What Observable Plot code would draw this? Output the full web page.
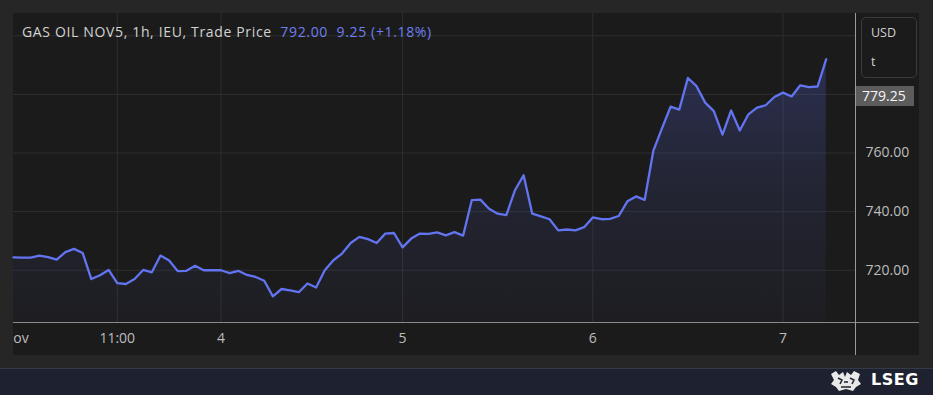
<!DOCTYPE html>
<html><head><meta charset="utf-8">
<script src="https://cdn.jsdelivr.net/npm/d3@7"></script>
<script src="https://cdn.jsdelivr.net/npm/@observablehq/plot@0.6"></script>
<style>
html,body{margin:0;padding:0;background:#262626;width:933px;height:395px;overflow:hidden;font-family:"Open Sans",sans-serif;}
#wrap{position:relative;width:933px;height:395px;}
.panel{position:absolute;left:13px;top:13px;width:906px;height:342px;background:#1b1b1b;}
.bar{position:absolute;left:0;top:368px;width:933px;height:27px;background:#1e2230;border-top:1px solid #353a47;}
#chart{position:absolute;left:0;top:0;}
.title{position:absolute;left:22px;top:22px;font-size:14px;letter-spacing:0.65px;color:#d2d2d2;white-space:pre;}
.title .px{color:#6f7ff0;}
.usd{position:absolute;left:861px;top:17px;width:56px;height:61px;border:1px solid #3b3b3b;border-radius:5px;box-sizing:border-box;color:#d2d2d2;font-size:12.5px;}
.usd div{position:absolute;left:9px;}
.hline{position:absolute;left:13px;top:322px;width:906px;height:1px;background:#8a8a8a;}
.vline{position:absolute;left:855px;top:13px;width:1px;height:342px;background:#9a9a9a;}
.leftmask{position:absolute;left:0;top:323px;width:13px;height:32px;background:#262626;}
.tag{position:absolute;left:856px;width:58px;height:20px;background:#5c5c5c;color:#f6f6f6;font-size:14px;line-height:20px;box-sizing:border-box;padding-left:6px;}
.lseg{position:absolute;left:871px;top:370px;font-family:"DejaVu Sans",sans-serif;font-weight:bold;font-size:16px;color:#fff;letter-spacing:0.5px;}
</style></head>
<body><div id="wrap">
<div class="panel"></div>
<div class="bar"></div>
<div id="chart"></div>
<div class="hline"></div>
<div class="vline"></div>
<div class="leftmask"></div>
<div class="title">GAS OIL NOV5, 1h, IEU, Trade Price  <span class="px">792.00  9.25 (+1.18%)</span></div>
<div class="usd"><div style="top:6px">USD</div><div style="top:35px">t</div></div>
<div class="tag" id="tag"></div>
<svg style="position:absolute;left:829px;top:370px" width="34" height="22" viewBox="0 0 34 22">
  <path d="M2 4 L7 1 L10 5 L14 2 L16 7 L18 2 L22 5 L25 1 L31 4 L29 10 L32 14 L27 17 L24 21 L17 19 L10 21 L7 17 L2 14 L5 10 Z" fill="#e8e8e8"/>
  <path d="M9 8 L13 10 L11 14 M21 8 L25 10 L23 14 M15 12 L19 12 M12 17 L22 17" stroke="#1e2230" stroke-width="1.5" fill="none"/>
</svg>
<div class="lseg">LSEG</div>
</div>
<script>
const prices = [724.4,724.3,724.3,725.0,724.5,723.6,726.2,727.3,725.9,717.0,
718.3,720.1,715.6,715.3,717.0,720.1,719.3,725.0,723.3,719.7,
719.8,721.5,720.0,720.0,720.0,719.0,719.8,718.4,717.7,716.4,
711.1,713.6,713.1,712.5,715.5,714.1,720.0,723.4,725.7,729.3,
731.4,730.6,729.3,732.5,732.7,727.8,730.8,732.5,732.4,732.9,
731.9,733.0,731.8,743.9,744.1,741.0,739.3,738.8,747.3,752.4,
739.3,738.4,737.4,733.6,733.9,733.6,734.7,738.0,737.4,737.5,
738.5,743.5,745.2,744.0,760.7,768.4,775.8,774.8,785.6,782.8,
777.2,774.3,766.3,774.5,767.7,773.2,775.5,776.3,779.1,780.6,
779.3,783.1,782.5,782.7,792.0];
const xTickIdx = [0.25, 12, 24, 45, 67, 89];
const xTickLabels = ["Nov", "11:00", "4", "5", "6", "7"];
const xGridIdx = [12, 24, 45, 67, 89];
const yTicks = [720, 740, 760];
const yGrid = [720, 740, 760, 780, 800];
const lastLabel = 779.25;

const data = prices.map((v, i) => ({i, v}));
const labelMap = new Map(xTickIdx.map((d, k) => [d, xTickLabels[k]]));
const yMin = 702, yMax = 807.6;

const gradient = () => {
  const ns = "http://www.w3.org/2000/svg";
  const defs = document.createElementNS(ns, "defs");
  defs.innerHTML = `<linearGradient id="areaGrad" x1="0" y1="0" x2="0" y2="1">
    <stop offset="0" stop-color="#5b6be8" stop-opacity="0.26"/>
    <stop offset="1" stop-color="#3a3f70" stop-opacity="0.08"/>
  </linearGradient>`;
  return defs;
};

const chart = Plot.plot({
  width: 933,
  height: 395,
  marginLeft: 13,
  marginRight: 77,
  marginTop: 13,
  marginBottom: 72.5,
  style: {background: "transparent", color: "#bdbdbd", fontSize: "14px", fontFamily: "Open Sans, sans-serif"},
  x: {domain: [0, 97.5], axis: null, label: null},
  y: {domain: [yMin, yMax], axis: null, label: null},
  marks: [
    gradient,
    Plot.gridY(yGrid, {stroke: "#2f2f2f", strokeOpacity: 1}),
    Plot.gridX(xGridIdx, {stroke: "#2f2f2f", strokeOpacity: 1}),
    Plot.areaY(data, {x: "i", y1: yMin, y2: "v", fill: "url(#areaGrad)"}),
    Plot.lineY(data, {x: "i", y: "v", stroke: "#6274f0", strokeWidth: 2.3}),
    Plot.axisX(xTickIdx, {anchor: "bottom", label: null, tickSize: 0, tickPadding: 10, tickFormat: d => labelMap.get(d), fill: "#bdbdbd"}),
    Plot.axisY(yTicks, {anchor: "right", label: null, tickSize: 0, tickPadding: 9, tickFormat: d => d.toFixed(2), fill: "#bdbdbd"})
  ]
});
document.getElementById("chart").appendChild(chart);
const tag = document.getElementById("tag");
tag.textContent = lastLabel.toFixed(2);
tag.style.top = (chart.scale("y").apply(lastLabel) - 10) + "px";
</script>
</body></html>
